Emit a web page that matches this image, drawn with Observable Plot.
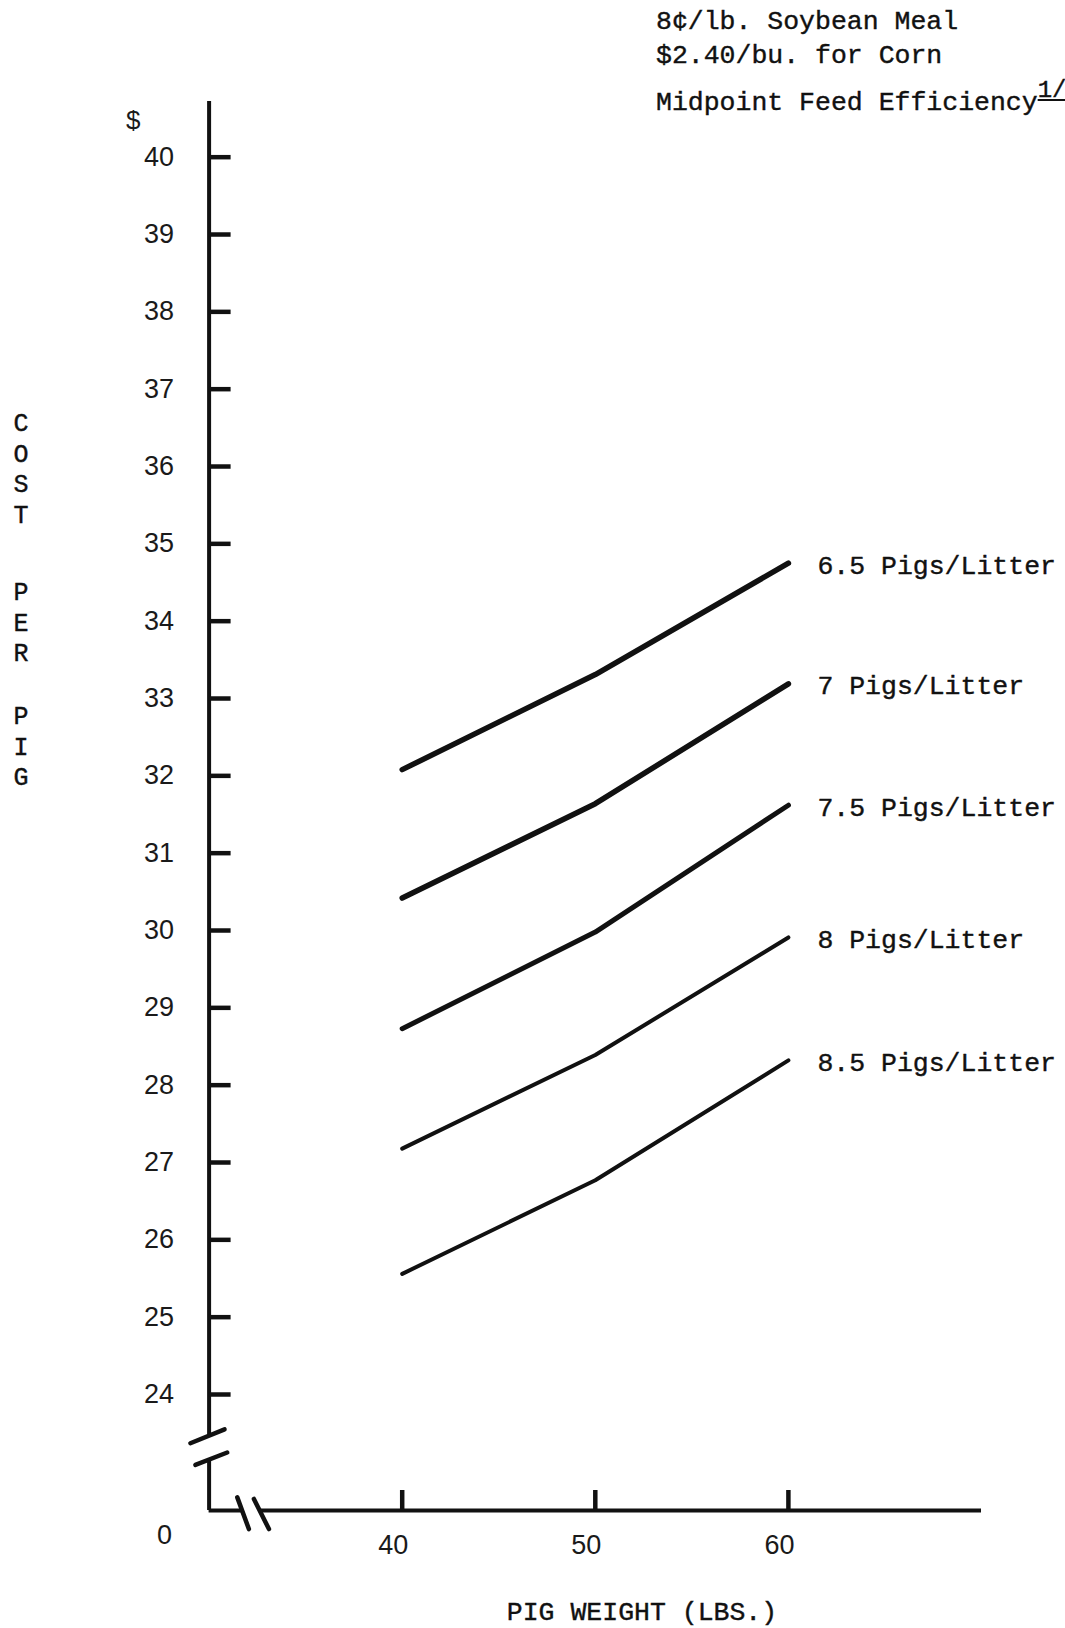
<!DOCTYPE html>
<html>
<head>
<meta charset="utf-8">
<script src="https://cdn.jsdelivr.net/npm/d3@7"></script>
<script src="https://cdn.jsdelivr.net/npm/@observablehq/plot@0.6"></script>
<style>
  html, body { margin: 0; padding: 0; background: #fff; }
  #wrap { position: relative; width: 1065px; height: 1628px; overflow: hidden; background: #fff; }
  #wrap svg { position: absolute; left: 0; top: 0; }
  .tw { position: absolute; font-family: "Liberation Mono", "Courier New", monospace; color: #111;
        font-size: 26.5px; line-height: 26.5px; white-space: pre; -webkit-text-stroke: 0.4px #111; }
  .ytitle { position: absolute; left: 6px; width: 30px; text-align: center;
        font-family: "Liberation Mono", "Courier New", monospace; color: #111;
        font-size: 25px; line-height: 30.5px; -webkit-text-stroke: 0.4px #111; }
</style>
</head>
<body>
<div id="wrap">
  <div class="tw" style="left:656px; top:9px;">8¢/lb. Soybean Meal</div>
  <div class="tw" style="left:656px; top:43px;">$2.40/bu. for Corn</div>
  <div class="tw" style="left:656px; top:90px;">Midpoint Feed Efficiency<span style="position:relative; top:-13px; font-size:24px; text-decoration:underline;">1/</span></div>
  <div class="ytitle" style="top:410px;">C<br>O<br>S<br>T</div>
  <div class="ytitle" style="top:579px;">P<br>E<br>R</div>
  <div class="ytitle" style="top:703px;">P<br>I<br>G</div>
  <div class="tw" style="left:142px; width:1000px; text-align:center; top:1600px;">PIG WEIGHT (LBS.)</div>
</div>
<script>
// ---- data ----
const weights = [40, 50, 60];
const litterSizes = ["6.5", "7", "7.5", "8", "8.5"];
const cost65 = [32.08, 33.31, 34.75];
const cost7  = [30.42, 31.64, 33.19];
const cost75 = [28.73, 29.98, 31.62];
const cost8  = [27.18, 28.39, 29.91];
const cost85 = [25.56, 26.77, 28.32];
const yTicks = [24, 25, 26, 27, 28, 29, 30, 31, 32, 33, 34, 35, 36, 37, 38, 39, 40];
const xTicks = [40, 50, 60];
const xDomain = [30, 70];
const yDomain = [22.5, 40.72];
// broken-axis pieces (axis units)
const yAxisFrom = [40.72, 23.16];
const yAxisTo   = [23.47, 22.5];
const xAxisFrom = [30, 32.7];
const xAxisTo   = [31.71, 70];
const breakX1 = [29.03, 29.29, 31.46, 32.32];
const breakY1 = [23.37, 23.09, 22.67, 22.65];
const breakX2 = [30.80, 30.94, 32.06, 33.10];
const breakY2 = [23.55, 23.25, 22.26, 22.26];

// ---- tables built from the arrays ----
const seriesCosts = [cost65, cost7, cost75, cost8, cost85];
const rows = litterSizes.flatMap((l, i) => weights.map((w, j) => ({litter: l, weight: w, cost: seriesCosts[i][j]})));
const yAxisSegs = yAxisFrom.map((f, i) => ({from: f, to: yAxisTo[i]}));
const xAxisSegs = xAxisFrom.map((f, i) => ({from: f, to: xAxisTo[i]}));
const breaks = breakX1.map((x, i) => ({x1: x, y1: breakY1[i], x2: breakX2[i], y2: breakY2[i]}));

const ink = "#111";
const heavy = new Set(["6.5", "7"]);
const mid = new Set(["7.5"]);
const numFont = "Liberation Sans, Arial, sans-serif";

const chart = Plot.plot({
  width: 1065,
  height: 1628,
  marginLeft: 208.6,
  marginRight: 84,
  marginTop: 101,
  marginBottom: 118,
  x: {domain: xDomain},
  y: {domain: yDomain},
  style: {background: "transparent", color: ink},
  marks: [
    Plot.ruleX(yAxisSegs, {x: xDomain[0], y1: "from", y2: "to", stroke: ink, strokeWidth: 4}),
    Plot.ruleY(xAxisSegs, {y: yDomain[0], x1: "from", x2: "to", stroke: ink, strokeWidth: 4}),
    Plot.link(breaks, {x1: "x1", y1: "y1", x2: "x2", y2: "y2", stroke: ink, strokeWidth: 4.5, strokeLinecap: "round"}),
    Plot.axisY(yTicks, {anchor: "left", tickSize: -22, text: null, label: null, stroke: ink, strokeWidth: 4.5}),
    Plot.axisY(yTicks, {anchor: "left", tickSize: 0, tickPadding: 35, label: null, tickFormat: d => String(d),
      fontSize: 27, fontFamily: numFont, fill: "#1a1a1a"}),
    Plot.axisX(xTicks, {anchor: "bottom", tickSize: -20, text: null, label: null, stroke: ink, strokeWidth: 4.5}),
    Plot.axisX(xTicks, {anchor: "bottom", tickSize: 0, tickPadding: 24, dx: -9, label: null, tickFormat: d => String(d),
      fontSize: 27, fontFamily: numFont, fill: "#1a1a1a"}),
    Plot.text(["0"], {frameAnchor: "bottom-left", dx: -52, dy: 33, text: d => d,
      fontSize: 27, fontFamily: numFont, fill: "#1a1a1a"}),
    Plot.text(["$"], {frameAnchor: "top-left", dx: -83, dy: 9, text: d => d,
      fontSize: 26, fontFamily: numFont, fill: "#1a1a1a"}),
    Plot.line(rows, {x: "weight", y: "cost", z: "litter", stroke: ink,
      strokeWidth: d => heavy.has(d.litter) ? 5.5 : mid.has(d.litter) ? 5 : 4,
      strokeLinecap: "round", strokeLinejoin: "round"}),
    Plot.text(rows.filter(d => d.weight === weights[weights.length - 1]), {
      x: "weight", y: "cost", text: d => `${d.litter} Pigs/Litter`,
      textAnchor: "start", dx: 29, dy: 2, fontSize: 26.5,
      fontFamily: "Liberation Mono, Courier New, monospace", fill: ink, stroke: ink, strokeWidth: 0.4})
  ]
});
document.getElementById("wrap").appendChild(chart);
</script>
</body>
</html>
